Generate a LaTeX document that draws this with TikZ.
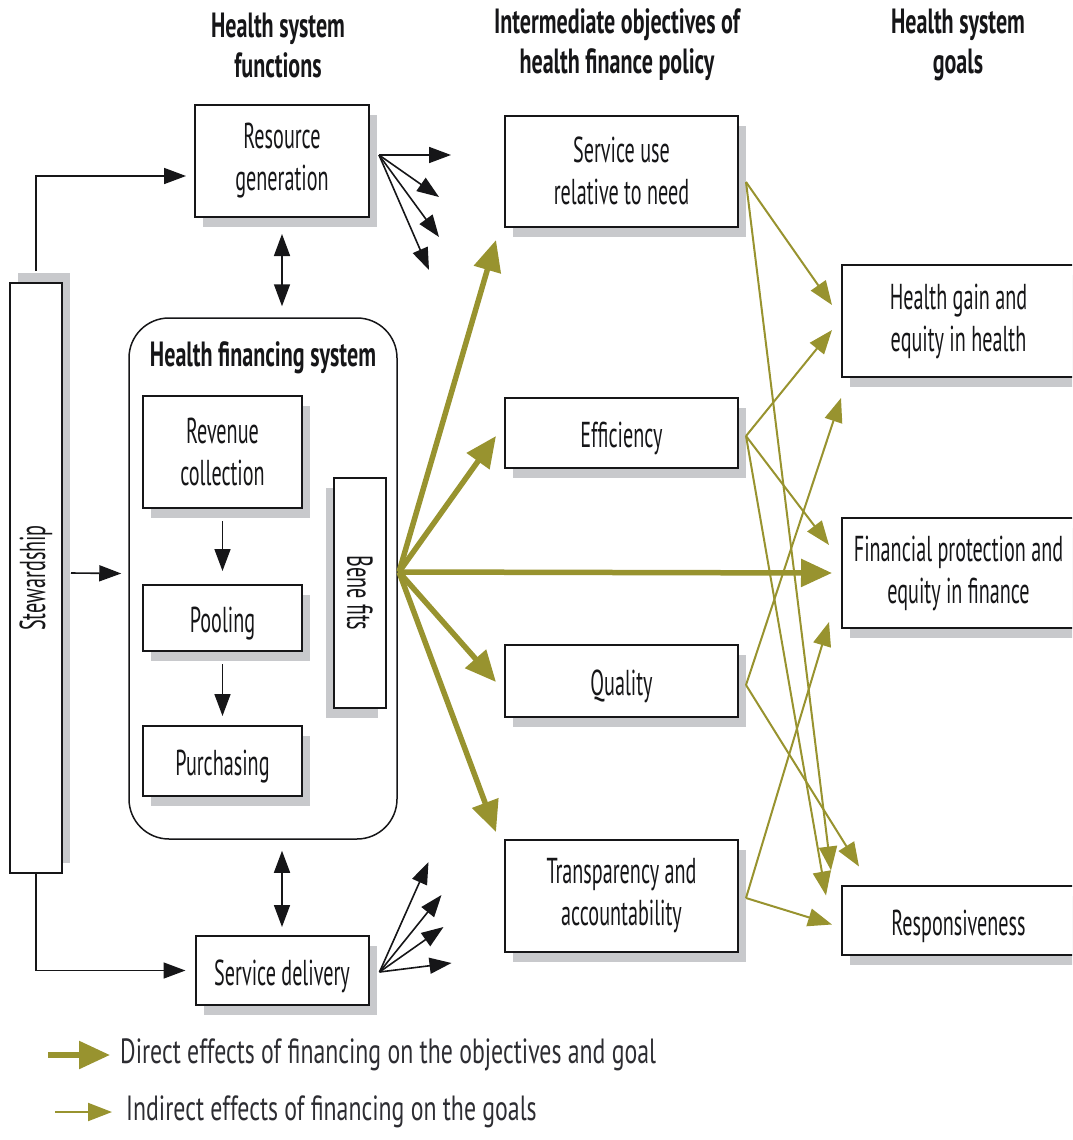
\documentclass[tikz,border=0pt]{standalone}
\usepackage{fontspec}
\setmainfont{PT Sans}[FakeStretch=0.56]
\newfontfamily\headfont{PT Sans}[FakeStretch=0.63]
\newfontfamily\legendfont{PT Sans}[FakeStretch=0.68]
\usetikzlibrary{arrows.meta,shadows,calc}
\definecolor{olivearrow}{RGB}{152,147,47}
\definecolor{shgray}{RGB}{200,201,204}
\definecolor{ink}{RGB}{22,22,24}
\definecolor{legendink}{RGB}{45,45,50}

\begin{document}
\begin{tikzpicture}[x=1pt,y=-1pt,
  every node/.style={font=\fontsize{36}{42}\selectfont, text=ink, align=center, inner sep=0pt},
  header/.style={font=\headfont\fontsize{35}{40}\selectfont\bfseries},
  legendtext/.style={font=\legendfont\fontsize{35}{40}\selectfont, text=legendink, anchor=west},
  oneline/.style={text height=29pt, text depth=0pt},
  box/.style={draw=ink, line width=2pt, fill=white,
    drop shadow={shadow xshift=8pt, shadow yshift=-10pt, fill=shgray, opacity=1}},
  stewbox/.style={draw=ink, line width=2pt, fill=white,
    drop shadow={shadow xshift=8pt, shadow yshift=10pt, fill=shgray, opacity=1}},
  benbox/.style={draw=ink, line width=2pt, fill=white,
    drop shadow={shadow xshift=-8pt, shadow yshift=-10pt, fill=shgray, opacity=1}},
  roundbox/.style={draw=ink, line width=1.5pt, rounded corners=40pt},
  blk/.style={draw=ink, line width=1.6pt, -{Triangle[length=22pt,width=16pt]}},
  dblarr/.style={draw=ink, line width=1.6pt, {Triangle[length=22pt,width=16pt]}-{Triangle[length=22pt,width=16pt]}},
  directarr/.style={draw=olivearrow, line width=5.5pt, -{Triangle[length=31pt,width=27pt]}},
  indirectarr/.style={draw=olivearrow, line width=2pt, -{Triangle[length=24pt,width=18pt]}},
]
\useasboundingbox (0,0) rectangle (1072,1140);
\clip (0,0) rectangle (1072,1140);

% column headings
\node[header] (h1) at (278,45) {Health system\\functions};
\node[header] (h2) at (617,45) {Intermediate objectives of\\health finance policy};
\node[header] (h3) at (958,45) {Health system\\goals};

% health system functions
\node[box, minimum width=174pt, minimum height=112pt] (rg) at (282,161) {Resource\\generation};
\node[stewbox, minimum width=52pt, minimum height=590pt] (stew) at (36,578) {};
\node[rotate=90] (stewtxt) at (36,578) {Stewardship};
\node[roundbox, minimum width=268pt, minimum height=521pt] (hfs) at (263,578.5) {};
\node[header] (hfstitle) at (263,358) {Health financing system};
\node[box, minimum width=159pt, minimum height=112pt] (rev) at (222.5,452) {Revenue\\collection};
\node[box, oneline, minimum width=159pt, minimum height=66pt] (pool) at (222.5,618) {Pooling};
\node[box, oneline, minimum width=159pt, minimum height=70pt] (purch) at (222.5,761) {Purchasing};
\node[benbox, minimum width=52pt, minimum height=230pt] (ben) at (360,593) {};
\node[rotate=-90] (bentxt) at (360,593) {Bene fits};
\node[box, oneline, minimum width=173pt, minimum height=69pt] (sd) at (282,970.5) {Service delivery};

% intermediate objectives
\node[box, minimum width=233pt, minimum height=111pt] (su) at (621.5,171) {Service use\\relative to need};
\node[box, oneline, minimum width=233pt, minimum height=70pt] (eff) at (621.5,433) {Efficiency};
\node[box, oneline, minimum width=233pt, minimum height=72pt] (q) at (621.5,681) {Quality};
\node[box, minimum width=233pt, minimum height=112pt] (t) at (621.5,896) {Transparency and\\accountability};

% goals
\node[box, minimum width=233pt, minimum height=112pt] (hg) at (958.5,321) {Health gain and\\equity in health};
\node[box, minimum width=233pt, minimum height=110pt] (fp) at (958.5,573) {Financial protection and\\equity in finance};
\node[box, oneline, minimum width=233pt, minimum height=69pt] (resp) at (958.5,920.5) {Responsiveness};

% links inside the functions column
\draw[blk] ($(stew.north)+(0,-11)$) |- ($(rg.west)+(-8,15)$);
\draw[blk] (stew.south) |- ($(sd.west)+(-9,0)$);
\draw[blk] ($(stew.east)+(8,-5)$) -- ($(hfs.west)+(-7,-5)$);
\draw[blk] ($(rev.south)+(0,12)$) -- ($(pool.north)+(0,-13)$);
\draw[blk] ($(pool.south)+(0,12)$) -- ($(purch.north)+(0,-9)$);
\draw[dblarr] ($(rg.south)+(0,16)$) -- ($(hfs.north -| rg.south)+(0,-11)$);
\draw[dblarr] ($(hfs.south -| sd.north)+(0,11)$) -- ($(sd.north)+(0,-8)$);

% fans of outgoing effects
\coordinate (rgout) at ($(rg.east)+(9,-6)$);
\foreach \dx/\dy in {81/-6,69/36,69/76,59/109}
  \draw[blk] (rgout) -- ($(rg.east)+(\dx,\dy)$);
\coordinate (sdout) at ($(sd.east)+(10,1.5)$);
\foreach \dx/\dy in {59/-108.5,72/-75.5,74/-43.5,82/-7.5}
  \draw[blk] (sdout) -- ($(sd.east)+(\dx,\dy)$);

% direct effects of financing
\coordinate (benout) at ($(ben.east)+(12,-21)$);
\draw[directarr] (benout) -- ($(su.west)+(-8,69)$);
\draw[directarr] (benout) -- ($(eff.west)+(-8,3)$);
\draw[directarr] (benout) -- ($(fp.west)+(-9,0)$);
\draw[directarr] (benout) -- ($(q.west)+(-8,1)$);
\draw[directarr] (benout) -- ($(t.west)+(-8,-64)$);

% indirect effects on the goals
\coordinate (suout) at ($(su.east)+(7,11)$);
\coordinate (effout) at ($(eff.east)+(7,3)$);
\coordinate (qout) at ($(q.east)+(7,4)$);
\coordinate (tout) at ($(t.east)+(7,2)$);
\draw[indirectarr] (suout) -- ($(hg.west)+(-9,-16)$);
\draw[indirectarr] (suout) -- ($(resp.west)+(-10,-50)$);
\draw[indirectarr] (effout) -- ($(hg.west)+(-9,9)$);
\draw[indirectarr] (effout) -- ($(fp.west)+(-12,-28)$);
\draw[indirectarr] (effout) -- ($(resp.west)+(-15,-25)$);
\draw[indirectarr] (qout) -- ($(hg.west)+(0,77)$);
\draw[indirectarr] (qout) -- ($(resp.west)+(18,-54)$);
\draw[indirectarr] (tout) -- ($(fp.west)+(-12,49)$);
\draw[indirectarr] (tout) -- ($(resp.west)+(-9,4)$);

% legend
\node[legendtext] (legd) at (120,1055) {Direct effects of financing on the objectives and goal};
\node[legendtext] (legi) at (126,1112) {Indirect effects of financing on the goals};
\coordinate (legdstart) at (48,1055);
\coordinate (legistart) at (55,1112);
\draw[directarr] (legdstart) -- ($(legd.west)+(-10,0)$);
\draw[indirectarr] (legistart) -- ($(legi.west)+(-14,0)$);
\end{tikzpicture}
\end{document}
